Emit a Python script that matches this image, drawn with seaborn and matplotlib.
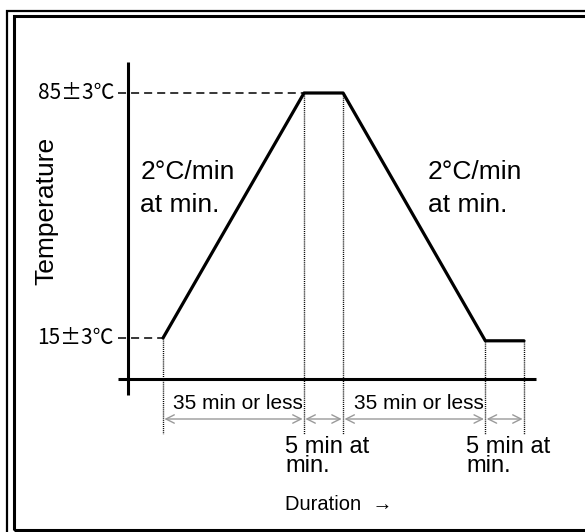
import matplotlib
matplotlib.use("Agg")
import matplotlib.pyplot as plt
import seaborn as sns
from matplotlib.patches import Rectangle

sns.set_theme(style="white")
plt.rcParams['font.family'] = ['Liberation Sans', 'Noto Sans CJK JP', 'DejaVu Sans']
plt.rcParams['lines.scale_dashes'] = False
plt.rcParams['text.color'] = 'black'

# ---- data (schematic time axis: the diagram is not drawn to scale) ----
time_pts = [0, 35, 44.7, 80, 89.6]
temp_pts = [15, 85, 85, 14.2, 14.2]
level_vals = [85, 15]
level_labels = ["85±3℃", "15±3℃"]
segment_labels = ["35 min or less", "5 min at\nmin.", "35 min or less", "5 min at\nmin."]
rate_labels = ["2°C/min\nat min.", "2°C/min\nat min."]
x_label = "Duration  →"
y_label = "Temperature"

W, H = 585, 532
fig = plt.figure(figsize=(W / 100, H / 100), dpi=100)
ax = fig.add_axes([0, 0, 1, 1])
X0, X1 = -40.46, 104.74
Y0, Y1 = -40.43, 111.57
ax.set_xlim(X0, X1)
ax.set_ylim(Y0, Y1)
ax.axis('off')

def px(x, y):
    """pixel position -> data coordinates"""
    return (X0 + x / W * (X1 - X0), Y1 - y / H * (Y1 - Y0))

# double frame
ftr = fig.transFigure
def frect(x, y, w, h, lw):
    fig.patches.append(Rectangle((x / W, 1 - (y + h) / H), w / W, h / H, transform=ftr,
                                 fill=False, ec='black', lw=lw, zorder=0))
frect(7, 10.5, 600, 560, 1.6)
frect(13.5, 15.5, 600, 514, 2.2)

# axis lines
ax_x, _ = px(128, 0)
_, ax_top = px(0, 62)
_, ax_bot = px(0, 395)
_, hx_y = px(0, 378.5)
hx_l, _ = px(118, 0)
hx_r, _ = px(536, 0)
ax.plot([ax_x, ax_x], [ax_top, ax_bot], color='black', lw=2.2, solid_capstyle='butt')
ax.plot([hx_l, hx_r], [hx_y, hx_y], color='black', lw=2.2, solid_capstyle='butt')

# profile
sns.lineplot(x=time_pts, y=temp_pts, sort=False, estimator=None, color='black', lw=2.3, ax=ax,
             zorder=5)

# dashed level lines and labels
level_end = {85: time_pts[1], 15: time_pts[0]}
lab_x, _ = px(114, 0)
for v, lab in zip(level_vals, level_labels):
    ax.plot([hx_l, level_end[v]], [v, v], color='black', lw=1.1, dashes=(5.8, 3.6))
    ax.text(lab_x, v, lab, ha='right', va='center', fontsize=15, color='black',
            family=['Noto Sans CJK JP', 'DejaVu Sans'])

# dotted verticals
_, dot_bot = px(0, 434)
for t, v in zip(time_pts, temp_pts):
    ax.plot([t, t], [v, dot_bot], color='black', lw=1.0, dashes=(0.75, 0.75))

# dimension arrows and segment labels
_, arr_y = px(0, 419)
_, seg_y = px(0, 403)
_, seg2_y = px(0, 436)
for i, lab in enumerate(segment_labels):
    t0, t1 = time_pts[i], time_pts[i + 1]
    ax.annotate('', xy=(t1, arr_y), xytext=(t0, arr_y),
                arrowprops=dict(arrowstyle='<->,head_length=0.6,head_width=0.3',
                                color='#9a9a9a', lw=1.0, shrinkA=1, shrinkB=1,
                                mutation_scale=10))
    if i % 2 == 0:
        ax.text(t1 - 0.3, seg_y, lab, ha='right', va='center', fontsize=15)
    else:
        ax.text(t0 - 4.7, seg2_y, lab, ha='left', va='top', fontsize=17, linespacing=0.8)

# rate labels
for (x, y), lab in zip([(140.5, 160), (427.5, 160)], rate_labels):
    tx, ty = px(x, y)
    ax.text(tx, ty, lab, ha='left', va='top', fontsize=19, linespacing=1.45)

# axis titles
tx, ty = px(285, 505)
ax.text(tx, ty, x_label, ha='left', va='center', fontsize=14.5)
tx, ty = px(46, 211)
ax.text(tx, ty, y_label, ha='center', va='center', rotation=90, fontsize=19)

fig.savefig('out.png', dpi=100)
